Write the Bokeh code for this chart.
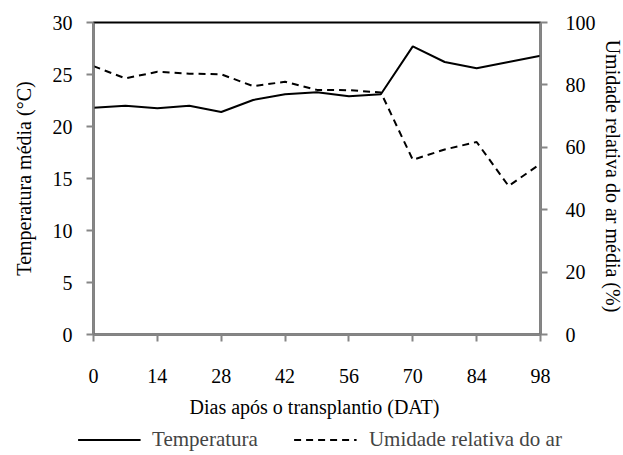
from bokeh.plotting import figure
from bokeh.models import LinearAxis, Range1d, Legend, LegendItem, FixedTicker
from bokeh.embed import file_html
from bokeh.resources import INLINE

dias = [0, 7, 14, 21, 28, 35, 42, 49, 56, 63, 70, 77, 84, 91, 98]
temperatura = [21.8, 22.0, 21.75, 22.0, 21.4, 22.55, 23.1, 23.3, 22.9, 23.1, 27.7, 26.2, 25.6, 26.2, 26.8]
umidade = [86.0, 82.1, 84.2, 83.6, 83.4, 79.6, 81.0, 78.4, 78.3, 77.6, 56.0, 59.3, 61.7, 47.6, 54.7]
x_ticks = [0, 14, 28, 42, 56, 70, 84, 98]
y_ticks = [0, 5, 10, 15, 20, 25, 30]
y2_ticks = [0, 20, 40, 60, 80, 100]

FONT = "Liberation Serif"
FS = "20px"
AX = "#868686"

p = figure(frame_width=447, frame_height=312, output_backend="svg", toolbar_location=None,
           x_range=Range1d(0, 98), y_range=Range1d(0, 30),
           min_border_left=93, min_border_right=83, min_border_top=22, min_border_bottom=92)
p.extra_y_ranges = {"ur": Range1d(0, 100)}
p.xgrid.visible = False
p.ygrid.visible = False
p.outline_line_color = "black"
p.outline_line_width = 2

def style(ax):
    ax.axis_line_color = AX
    ax.axis_line_width = 2
    ax.major_tick_line_color = AX
    ax.major_tick_line_width = 2
    ax.major_tick_out = 7
    ax.major_tick_in = 0
    ax.minor_tick_line_color = None
    ax.major_label_text_font = FONT
    ax.major_label_text_font_size = FS
    ax.major_label_text_color = "black"
    ax.axis_label_text_font = FONT
    ax.axis_label_text_font_size = FS
    ax.axis_label_text_font_style = "normal"
    ax.axis_label_text_color = "black"

xa = p.xaxis[0]
style(xa)
xa.ticker = FixedTicker(ticks=x_ticks)
xa.axis_label = "Dias após o transplantio  (DAT)"
xa.major_label_standoff = 27
xa.axis_label_standoff = 10

ya = p.yaxis[0]
style(ya)
ya.ticker = FixedTicker(ticks=y_ticks)
ya.axis_label = "Temperatura média (°C)"
ya.major_label_standoff = 14
ya.axis_label_standoff = 15

y2 = LinearAxis(y_range_name="ur", ticker=FixedTicker(ticks=y2_ticks),
                axis_label="Umidade relativa do ar média  (%)")
style(y2)
y2.major_label_standoff = 18
y2.axis_label_standoff = 3
p.add_layout(y2, "right")

p.line(dias, temperatura, line_color="black", line_width=2)
p.line(dias, umidade, line_color="black", line_width=2, line_dash="7 5", y_range_name="ur")

# legend strip below the chart (its own lines lie outside its tiny frame)
p2 = figure(width=623, height=26, output_backend="svg", toolbar_location=None,
            x_range=Range1d(0, 98), y_range=Range1d(-2, -1),
            min_border_left=16, min_border_right=0, min_border_top=0, min_border_bottom=0)
p2.axis.visible = False
p2.grid.visible = False
p2.outline_line_color = None
l1 = p2.line(dias, temperatura, line_color="black", line_width=2)
l2 = p2.line(dias, umidade, line_color="black", line_width=2, line_dash="7 5")

leg = Legend(items=[LegendItem(label="Temperatura", renderers=[l1]),
                    LegendItem(label="Umidade relativa do ar", renderers=[l2])],
             orientation="horizontal", location="center",
             border_line_color=None, background_fill_alpha=0,
             label_text_font=FONT, label_text_font_size="21px",
             glyph_width=63, label_standoff=12, spacing=36, padding=0, margin=0)
p2.add_layout(leg, "center")

open("out.html", "w").write(file_html([p, p2], INLINE))
